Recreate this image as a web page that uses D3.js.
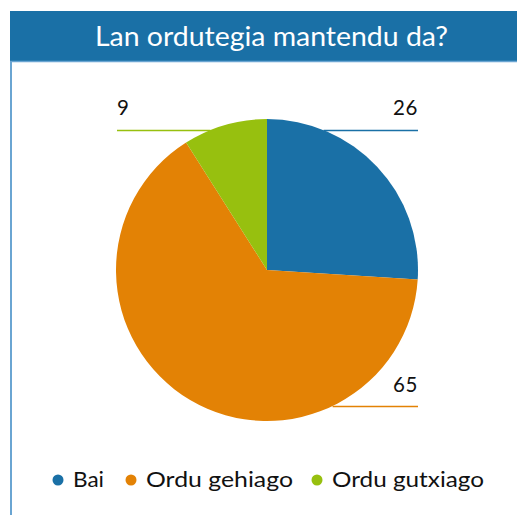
<!DOCTYPE html>
<html><head><meta charset="utf-8">
<script src="https://cdn.jsdelivr.net/npm/d3@7"></script>
<style>body{margin:0;background:#fff;} svg{display:block;font-family:Lato, "Open Sans", sans-serif;}</style>
</head><body>
<svg id="c" width="517" height="515"></svg>
<script>
const title = "Lan ordutegia mantendu da?";
const categories = ["Bai", "Ordu gehiago", "Ordu gutxiago"];
const values = [26, 65, 9];
const colors = ["#1a70a6", "#e38205", "#97c00f"];
const labelSide = ["right", "right", "left"];

const svg = d3.select("#c");
const W = 517, H = 515;
const cx = 267, cy = 270, R = 151;

// frame
svg.append("rect").attr("x", 10).attr("y", 11).attr("width", W - 10).attr("height", 50).attr("fill", "#1a70a6");
svg.append("line").attr("x1", 10).attr("x2", W).attr("y1", 61.5).attr("y2", 61.5).attr("stroke", "#6aa5d2").attr("stroke-width", 1.5);
svg.append("line").attr("x1", 11).attr("x2", 11).attr("y1", 61).attr("y2", H).attr("stroke", "#6aa5d2").attr("stroke-width", 2);
svg.append("text").attr("x", 95).attr("y", 46)
  .attr("fill", "#fff").attr("font-size", 26).attr("textLength", 353).attr("lengthAdjust", "spacingAndGlyphs").text(title);

const pie = d3.pie().sort(null).value(d => d)(values);
const arc = d3.arc().innerRadius(0).outerRadius(R);
const g = svg.append("g").attr("transform", `translate(${cx},${cy})`);

const labelY = [130, 406, 130];
const lineRight = 418, lineLeft = 117;
pie.forEach((p, i) => {
  const right = labelSide[i] === "right";
  const y = labelY[i];
  const dy = y - cy;
  const dx = Math.sqrt(Math.max(0, R * R - dy * dy));
  const xEdge = right ? cx + dx : cx - dx;
  const xEnd = right ? lineRight : lineLeft;
  svg.append("line").attr("x1", xEdge).attr("x2", xEnd).attr("y1", y + 0.5).attr("y2", y + 0.5)
    .attr("stroke", colors[i]).attr("stroke-width", 1.3);
  svg.append("text").attr("x", xEnd).attr("y", i === 1 ? y - 14 : y - 15)
    .attr("text-anchor", right ? "end" : "start").attr("font-size", 20.5).attr("fill", "#111")
    .attr("letter-spacing", 0.6)
    .text(values[i]);
});

g.selectAll("path").data(pie).enter().append("path")
  .attr("d", arc).attr("fill", (d, i) => colors[i]);

// legend
const legendX = [58, 131, 317];
const legendW = [31, 147, 152];
categories.forEach((c, i) => {
  svg.append("circle").attr("cx", legendX[i]).attr("cy", 480).attr("r", 5.5).attr("fill", colors[i]);
  svg.append("text").attr("x", legendX[i] + 15).attr("y", 487).attr("font-size", 20.5).attr("fill", "#111")
    .attr("textLength", legendW[i]).attr("lengthAdjust", "spacingAndGlyphs").text(c);
});
</script>
</body></html>
